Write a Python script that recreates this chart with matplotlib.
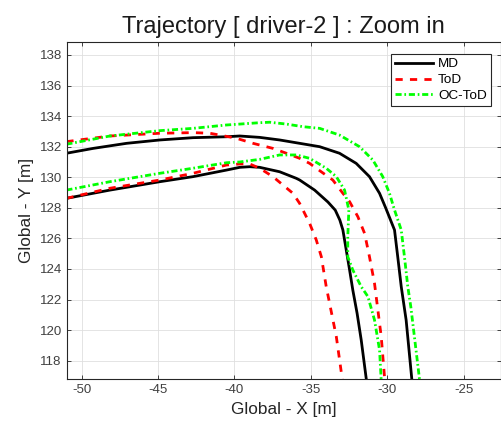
import matplotlib.pyplot as plt
import numpy as np

plt.rcParams['font.family'] = ['Liberation Sans', 'DejaVu Sans']
plt.rcParams['axes.unicode_minus'] = False

# MD - manual driving, outer and inner edge of the vehicle path
md_out_x = np.array([-51.0, -49.24, -47.06, -44.88, -42.71, -40.52, -39.65, -38.35, -37.04,
                     -35.73, -34.42, -33.12, -32.03, -31.16, -30.50, -30.10, -29.52, -29.31,
                     -29.08, -28.76, -28.36])
md_out_y = np.array([131.57, 131.89, 132.22, 132.44, 132.59, 132.65, 132.70, 132.61, 132.44,
                     132.22, 132.00, 131.57, 130.91, 130.04, 128.95, 128.00, 126.55, 124.80,
                     122.84, 120.66, 116.5])
md_in_x = np.array([-51.0, -48.15, -44.88, -42.71, -40.52, -39.65, -39.00, -38.35, -37.04,
                    -35.95, -35.73, -34.75, -33.88, -33.40, -33.10, -32.90, -32.68, -32.46,
                    -32.25, -31.97, -31.70, -31.33])
md_in_y = np.array([128.62, 129.16, 129.71, 130.04, 130.47, 130.65, 130.69, 130.65, 130.36,
                    129.93, 129.82, 129.16, 128.38, 127.85, 127.20, 126.55, 125.24, 123.93,
                    122.62, 121.10, 119.35, 116.5])

# ToD - teleoperated driving
tod_out_x = np.array([-51.0, -48.15, -44.88, -42.71, -41.61, -40.75, -39.87, -38.78, -37.48,
                      -36.60, -35.73, -35.08, -34.64, -33.56, -32.90, -32.46, -31.92, -31.48,
                      -31.16, -30.83, -30.39, -30.14])
tod_out_y = np.array([132.33, 132.70, 132.88, 132.92, 132.88, 132.72, 132.55, 132.22, 131.89,
                      131.57, 131.24, 130.91, 130.59, 129.82, 128.95, 128.40, 127.42, 126.33,
                      124.80, 123.06, 119.57, 116.5])
tod_in_x = np.array([-51.0, -48.15, -44.88, -42.71, -40.52, -39.65, -39.00, -38.35, -37.48,
                     -36.82, -36.17, -35.73, -35.08, -34.64, -34.31, -33.99, -33.33, -32.90])
tod_in_y = np.array([128.62, 129.28, 129.82, 130.26, 130.80, 130.87, 130.87, 130.59, 130.04,
                     129.49, 128.95, 128.29, 126.99, 125.89, 124.80, 122.84, 119.57, 116.5])

# OC-ToD - teleoperated driving with operator assistance
oc_out_x = np.array([-51.0, -48.15, -44.88, -42.71, -40.52, -39.65, -38.35, -37.69, -36.60,
                     -35.52, -34.42, -33.12, -31.81, -30.94, -30.29, -29.85, -29.52, -29.08,
                     -28.87, -28.65, -28.45, -27.85])
oc_out_y = np.array([132.16, 132.70, 133.05, 133.20, 133.42, 133.48, 133.57, 133.60, 133.48,
                     133.31, 133.20, 132.76, 132.00, 131.13, 130.04, 128.95, 127.86, 126.55,
                     124.80, 122.84, 121.50, 116.5])
oc_in_x = np.array([-51.0, -48.15, -44.88, -42.71, -40.52, -39.65, -38.35, -37.04, -35.95,
                    -35.08, -33.99, -33.33, -32.79, -32.51, -32.58, -32.58, -32.25, -31.70,
                    -31.26, -30.83, -30.50, -30.38])
oc_in_y = np.array([129.16, 129.71, 130.26, 130.59, 130.95, 131.00, 131.17, 131.46, 131.46,
                    131.24, 130.59, 130.04, 129.16, 127.86, 126.11, 124.80, 123.93, 122.84,
                    122.19, 120.66, 118.70, 116.5])

fig = plt.figure(figsize=(5.01, 4.25), dpi=100)
ax = fig.add_axes([0.1331, 0.1075, 0.8669, 0.7944])

lw = 2.0
dash = (0, (2.6, 2.6))
dashdot = (0, (2.2, 1.0, 0.6, 1.0))

ax.plot(md_out_x, md_out_y, color='black', lw=lw, label='MD')
ax.plot(tod_out_x, tod_out_y, color='red', lw=lw, ls=dash, label='ToD')
ax.plot(oc_out_x, oc_out_y, color='#00ff00', lw=lw, ls=dashdot, label='OC-ToD')
ax.plot(md_in_x, md_in_y, color='black', lw=lw)
ax.plot(tod_in_x, tod_in_y, color='red', lw=lw, ls=dash)
ax.plot(oc_in_x, oc_in_y, color='#00ff00', lw=lw, ls=dashdot)

ax.set_xlim(-50.98, -22.55)
ax.set_ylim(116.78, 138.87)
ax.set_xticks([-50, -45, -40, -35, -30, -25])
ax.set_yticks(np.arange(118, 139, 2))

ax.grid(True, color='#dfdfdf', lw=0.6)
ax.set_axisbelow(True)
ax.tick_params(direction='in', top=True, right=True, length=3, width=0.6,
               colors='#262626', labelsize=9.5, labelcolor='#404040')
for s in ax.spines.values():
    s.set_color('#262626')
    s.set_linewidth(0.8)

ax.set_title('Trajectory [ driver-2 ] : Zoom in', fontsize=17, color='#1a1a1a', pad=6)
ax.set_xlabel('Global - X [m]', fontsize=12.4, color='#262626', labelpad=4)
ax.set_ylabel('Global - Y [m]', fontsize=12.4, color='#262626', labelpad=4)

leg = fig.legend(loc='upper right', bbox_to_anchor=(490.7 / 501, 1 - 54 / 425),
                 fontsize=9.7, frameon=True, fancybox=False, framealpha=1,
                 edgecolor='#262626', handlelength=2.8, handletextpad=0.35,
                 labelspacing=0.25, borderpad=0.3, borderaxespad=0)
leg.get_frame().set_linewidth(0.8)

fig.savefig('out.png', dpi=100)
